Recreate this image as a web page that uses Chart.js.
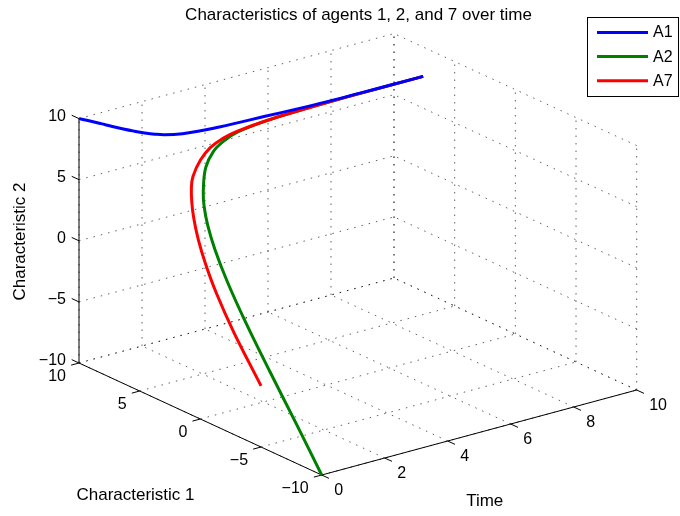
<!DOCTYPE html>
<html>
<head>
<meta charset="utf-8">
<script src="https://cdn.jsdelivr.net/npm/chart.js@4.4.1/dist/chart.umd.min.js"></script>
<style>
html,body{margin:0;padding:0;background:#fff;}
#wrap{width:680px;height:516px;position:relative;}
</style>
</head>
<body>
<div id="wrap"><canvas id="c" width="680" height="516"></canvas></div>
<script>
// ---- data ----
const timeSteps = [0,0.25,0.5,0.75,1,1.25,1.5,1.75,2,2.5,3,3.5,4,5,6,7,8,9,10];
const a1Char1 = [10,9.75,9.48,9.2,8.94,8.7,8.48,8.29,8.14,7.96,7.87,7.82,7.78,7.73,7.67,7.63,7.615,7.605,7.6];
const a1Char2 = [10,9.75,9.48,9.2,8.94,8.7,8.48,8.29,8.14,7.96,7.87,7.82,7.78,7.73,7.67,7.63,7.615,7.605,7.6];
const a2Char1 = [-10,-7.28,-4.43,-1.78,0.38,2.03,3.28,4.23,4.95,6.05,6.72,7.1,7.33,7.5,7.56,7.59,7.6,7.6,7.6];
const a2Char2 = [-10,-7.28,-4.43,-1.78,0.38,2.03,3.28,4.23,4.95,6.05,6.72,7.1,7.33,7.5,7.56,7.59,7.6,7.6,7.6];
const a7Char1 = [-5,-2.1,0.0,1.55,2.78,3.78,4.6,5.28,5.8,6.48,6.95,7.22,7.37,7.51,7.56,7.59,7.6,7.6,7.6];
const a7Char2 = [-5,-2.1,0.0,1.55,2.78,3.78,4.6,5.28,5.8,6.48,6.95,7.22,7.37,7.51,7.56,7.59,7.6,7.6,7.6];

const char1Ticks = [-10,-5,0,5,10];
const char1TickLabels = ['\u221210','\u22125','0','5','10'];
const timeTicks = [0,2,4,6,8,10];
const timeTickLabels = ['0','2','4','6','8','10'];
const char2Ticks = [-10,-5,0,5,10];
const char2TickLabels = ['\u221210','\u22125','0','5','10'];

const seriesNames = ['A1','A2','A7'];
const titleText = 'Characteristics of agents 1, 2, and 7 over time';

// ---- view (orthographic camera of the 3-D box) ----
const VIEW = { ox: 321.7, oy: 475, c1: [-12.135, -5.6], t: [31.5, -8.5], z: [0, -12.22] };
function proj(c1, t, z) {
  return {
    x: VIEW.ox + (c1 + 10) * VIEW.c1[0] + t * VIEW.t[0] + (z + 10) * VIEW.z[0],
    y: VIEW.oy + (c1 + 10) * VIEW.c1[1] + t * VIEW.t[1] + (z + 10) * VIEW.z[1]
  };
}
function seg(a, b, style) {
  return Object.assign({ data: [proj(a[0],a[1],a[2]), proj(b[0],b[1],b[2])],
    showLine: true, pointRadius: 0, fill: false, tension: 0 }, style);
}
function curve(name, c1, c2, color, order) {
  return { label: name, data: timeSteps.map((t,i) => proj(c1[i], t, c2[i])),
    showLine: true, pointRadius: 0, fill: false, tension: 0.4,
    borderColor: color, backgroundColor: color, borderWidth: 3, order: order,
    borderCapStyle: 'butt', borderJoinStyle: 'round' };
}

const gridStyle = { borderColor: 'rgba(0,0,0,0.62)', borderWidth: 1, borderDash: [1.5, 6], order: 20 };
const axisStyle = { borderColor: '#000', borderWidth: 1, order: 10 };

const curves = [
  curve(seriesNames[0], a1Char1, a1Char2, '#0000ff', 0),
  curve(seriesNames[1], a2Char1, a2Char2, '#008000', 2),
  curve(seriesNames[2], a7Char1, a7Char2, '#ff0000', 1)
];

const datasets = [...curves];
// grid on the back wall c1 = 10
timeTicks.forEach(t => datasets.push(seg([10,t,-10],[10,t,10], gridStyle)));
char2Ticks.forEach(z => datasets.push(seg([10,0,z],[10,10,z], gridStyle)));
// grid on the back wall time = 10
char1Ticks.forEach(c => datasets.push(seg([c,10,-10],[c,10,10], gridStyle)));
char2Ticks.forEach(z => datasets.push(seg([-10,10,z],[10,10,z], gridStyle)));
// grid on the floor
char1Ticks.forEach(c => datasets.push(seg([c,0,-10],[c,10,-10], gridStyle)));
timeTicks.forEach(t => datasets.push(seg([-10,t,-10],[10,t,-10], gridStyle)));
// solid axes
datasets.push(seg([10,0,-10],[10,0,10], axisStyle));
datasets.push(seg([-10,0,-10],[10,0,-10], axisStyle));
datasets.push(seg([-10,0,-10],[-10,10,-10], axisStyle));
// tick marks
char2Ticks.forEach(z => datasets.push(seg([10,0,z],[10.6,0,z], axisStyle)));
char1Ticks.forEach(c => datasets.push(seg([c,0,-10],[c,-0.25,-10], axisStyle)));
timeTicks.forEach(t => datasets.push(seg([-10,t,-10],[-10.6,t,-10], axisStyle)));

const FONT = '"Liberation Sans", Arial, Helvetica, sans-serif';

const decor = {
  id: 'decor',
  beforeDraw(chart) {
    const ctx = chart.ctx;
    ctx.save(); ctx.fillStyle = '#fff'; ctx.fillRect(0,0,chart.width,chart.height); ctx.restore();
  },
  afterDraw(chart) {
    const ctx = chart.ctx, xs = chart.scales.x, ys = chart.scales.y;
    const P = (c1,t,z) => { const p = proj(c1,t,z); return [xs.getPixelForValue(p.x), ys.getPixelForValue(p.y)]; };
    ctx.save();
    ctx.fillStyle = '#000';
    ctx.font = '16px ' + FONT;
    ctx.textBaseline = 'middle';
    ctx.textAlign = 'right';
    char2Ticks.forEach((v,i) => { const [px,py] = P(10,0,v); ctx.fillText(char2TickLabels[i], px-13, py-2.5); });
    char1Ticks.forEach((v,i) => { const [px,py] = P(v,0,-10); ctx.fillText(char1TickLabels[i], px-13, py+14); });
    ctx.textAlign = 'left';
    timeTicks.forEach((v,i) => { const [px,py] = P(-10,v,-10); ctx.fillText(timeTickLabels[i], px+12.5, py+16); });

    ctx.font = '17px ' + FONT;
    ctx.textAlign = 'center';
    ctx.fillText('Characteristic 1', 135.5, 495);
    ctx.fillText('Time', 484.7, 501.5);
    ctx.save(); ctx.translate(20, 241.5); ctx.rotate(-Math.PI/2);
    ctx.fillText('Characteristic 2', 0, 0); ctx.restore();
    ctx.fillText(titleText, 358.5, 15);

    // legend
    ctx.fillStyle = '#fff';
    ctx.fillRect(587.5, 17.5, 91, 79);
    ctx.strokeStyle = '#000'; ctx.lineWidth = 1;
    ctx.strokeRect(587.5, 17.5, 91, 79);
    const legendOrder = [0,1,2];
    ctx.font = '16px ' + FONT;
    ctx.textAlign = 'left';
    legendOrder.forEach((di, k) => {
      const ds = chart.data.datasets[di];
      const y = 32.5 + k * 24.1;
      ctx.strokeStyle = ds.borderColor; ctx.lineWidth = 3;
      ctx.beginPath(); ctx.moveTo(597, y); ctx.lineTo(648, y); ctx.stroke();
      ctx.fillStyle = '#000';
      ctx.fillText(ds.label, 653, y + 0.5);
    });
    ctx.restore();
  }
};

new Chart(document.getElementById('c'), {
  type: 'scatter',
  data: { datasets: datasets },
  options: {
    responsive: false,
    devicePixelRatio: 1,
    animation: false,
    layout: { padding: 0, autoPadding: false },
    plugins: { legend: { display: false }, tooltip: { enabled: false }, title: { display: false } },
    scales: {
      x: { type: 'linear', min: 0, max: 680, display: false },
      y: { type: 'linear', min: 0, max: 516, reverse: true, display: false }
    },
    elements: { line: { capBezierPoints: true } }
  },
  plugins: [decor]
});
</script>
</body>
</html>
